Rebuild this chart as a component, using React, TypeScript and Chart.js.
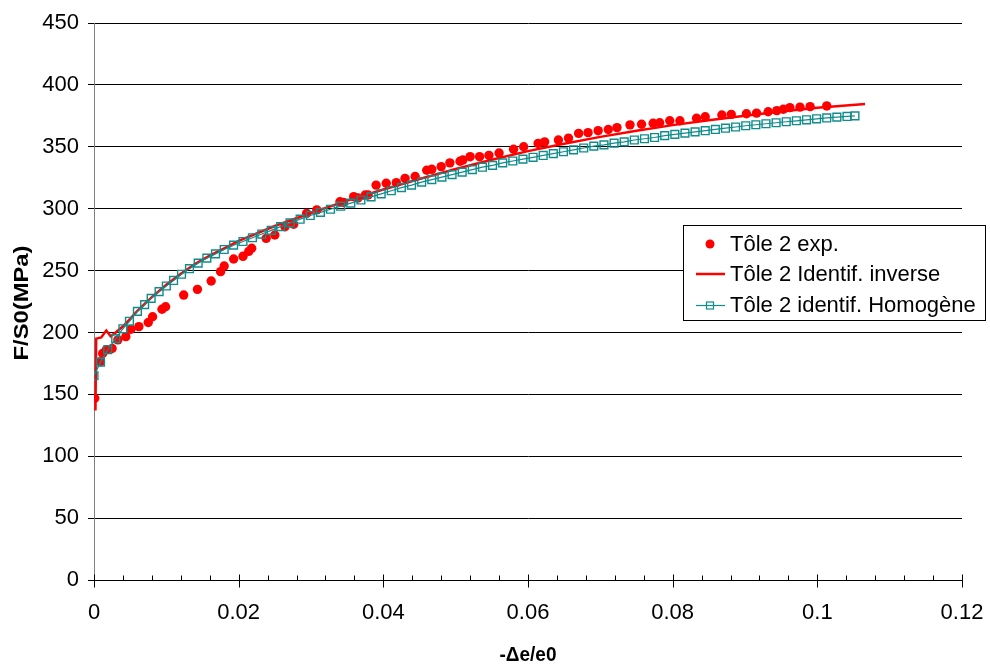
import React, { useEffect, useRef } from "react";
import { Chart, registerables } from "chart.js";

Chart.register(...registerables);

const expX = [0.0001, 0.0009, 0.0012, 0.0017, 0.0025, 0.0033, 0.0044, 0.0051, 0.0062, 0.0075, 0.0081, 0.0094, 0.0099, 0.0124, 0.0143, 0.0162, 0.0175, 0.018, 0.0193, 0.0206, 0.0214, 0.0218, 0.0238, 0.025, 0.0264, 0.0276, 0.0294, 0.0308, 0.034, 0.0345, 0.0359, 0.0365, 0.0375, 0.0379, 0.039, 0.0404, 0.0418, 0.043, 0.0444, 0.046, 0.0467, 0.048, 0.0492, 0.0506, 0.051, 0.052, 0.0533, 0.0546, 0.056, 0.058, 0.0594, 0.0614, 0.0623, 0.0642, 0.0656, 0.067, 0.0683, 0.0697, 0.0711, 0.0723, 0.0741, 0.0757, 0.0773, 0.0782, 0.0796, 0.081, 0.0833, 0.0845, 0.0868, 0.0881, 0.0902, 0.0916, 0.0932, 0.0944, 0.0953, 0.0962, 0.0976, 0.099, 0.1013];
const expY = [146.8, 176.4, 183, 186, 187, 194, 196.6, 202.6, 204.7, 208, 212.7, 218.7, 220.8, 230.2, 234.8, 241.6, 249.1, 253.7, 259.3, 261.5, 265.5, 268, 276, 278.7, 285.4, 287.4, 296.2, 299, 305.6, 305, 309.7, 308.6, 311, 311, 319, 320.5, 321, 324.5, 326, 331, 331.8, 334, 337, 338.3, 339.3, 342, 342, 343, 345, 348, 350, 352.7, 354, 355.5, 357, 360.8, 361.4, 363, 364, 365.5, 367.7, 368.2, 369, 369.4, 371, 371, 373, 374.3, 375.7, 376.2, 376.7, 377.2, 378.3, 379.2, 380.3, 381.6, 382, 382.4, 383];

const invX = [0.0002, 0.0003, 0.001, 0.0017, 0.0023, 0.003, 0.004, 0.005, 0.006, 0.007, 0.008, 0.009, 0.01, 0.012, 0.014, 0.016, 0.018, 0.02, 0.025, 0.03, 0.035, 0.04, 0.045, 0.05, 0.055, 0.06, 0.065, 0.07, 0.075, 0.08, 0.085, 0.09, 0.095, 0.1, 0.1066];
const invY = [137, 195, 196, 201.5, 197, 200, 205, 211, 217.5, 223, 228.5, 233.5, 238.5, 247.5, 255.5, 262, 268, 274, 286, 296.5, 306.5, 315.5, 324, 332, 339.5, 346.5, 352.5, 358, 363, 367.5, 371.5, 375, 378.5, 381.5, 384.5];

const homX = [0, 0.0009, 0.0019, 0.003, 0.004, 0.0049, 0.006, 0.007, 0.0079, 0.009, 0.01, 0.011, 0.0121, 0.0132, 0.0144, 0.0156, 0.0168, 0.018, 0.0193, 0.0206, 0.0219, 0.0232, 0.0245, 0.0258, 0.0271, 0.0285, 0.0299, 0.0313, 0.0327, 0.0341, 0.0355, 0.0369, 0.0383, 0.0397, 0.0411, 0.0425, 0.0439, 0.0453, 0.0467, 0.0481, 0.0495, 0.0509, 0.0523, 0.0537, 0.0551, 0.0565, 0.0579, 0.0593, 0.0607, 0.0621, 0.0635, 0.0649, 0.0663, 0.0677, 0.0691, 0.0705, 0.0719, 0.0733, 0.0747, 0.0761, 0.0775, 0.0789, 0.0803, 0.0817, 0.0831, 0.0845, 0.0859, 0.0873, 0.0887, 0.0901, 0.0915, 0.0929, 0.0943, 0.0957, 0.0971, 0.0985, 0.0999, 0.1013, 0.1027, 0.1041, 0.1052];
const homY = [165, 176, 186, 195, 203, 209, 217, 222.5, 227.5, 233, 237.5, 242, 247, 251.5, 256, 260, 263.5, 267, 270.5, 273.5, 276.5, 279.5, 282.5, 285.5, 288.5, 291.5, 294.5, 297, 299.5, 302, 304.5, 307, 309.5, 312, 314.5, 317, 319, 321.5, 323.5, 325.5, 327.5, 329.5, 331.5, 333.5, 335, 337, 338.5, 340, 341.5, 343, 344.5, 346, 347.5, 349, 350.5, 351.5, 353, 354, 355.5, 356.5, 357.5, 359, 360, 361, 362, 363, 364, 365, 366, 367, 367.8, 368.6, 369.4, 370.2, 371, 371.8, 372.6, 373.3, 374, 374.5, 375];

const seriesLabels = ["Tôle 2 exp.", "Tôle 2 Identif. inverse", "Tôle 2 identif. Homogène"];
const xTitle = "-Δe/e0";
const yTitle = "F/S0(MPa)";

const RED = "#ff0000";
const TEAL = "#108c8c";
const FONT = "'Liberation Sans', Arial, sans-serif";

const toPts = (xs: number[], ys: number[]) => xs.map((x, i) => ({ x, y: ys[i] }));

const fitText = (ctx: any, text: string, x: number, y: number, len: number) => {
  const w = ctx.measureText(text).width;
  ctx.save();
  ctx.translate(x, y);
  ctx.scale(len / w, 1);
  ctx.fillText(text, 0, 0);
  ctx.restore();
};

const decorPlugin = {
  id: "decor",
  afterDraw(chart: any) {
    const ctx = chart.ctx;
    const xs = chart.scales.x;
    const ys = chart.scales.y;
    const area = chart.chartArea;
    ctx.save();
    ctx.strokeStyle = "#000";
    ctx.lineWidth = 1;
    const y0 = Math.round(ys.getPixelForValue(0)) + 0.5;
    for (let i = 0; i <= 30; i++) {
      const v = i * 0.004;
      const px = Math.round(xs.getPixelForValue(v)) + 0.5;
      ctx.beginPath();
      if (i % 5 === 0) {
        ctx.moveTo(px, y0 - 6);
        ctx.lineTo(px, y0 + 7);
      } else {
        ctx.moveTo(px, y0 - 5);
        ctx.lineTo(px, y0);
      }
      ctx.stroke();
    }
    ctx.fillStyle = "#000";
    ctx.font = `bold 20px ${FONT}`;
    ctx.textAlign = "center";
    ctx.textBaseline = "middle";
    fitText(ctx, xTitle, (area.left + area.right) / 2, 655, 57);
    ctx.save();
    ctx.translate(22, 303);
    ctx.rotate(-Math.PI / 2);
    fitText(ctx, yTitle, 0, 0, 115);
    ctx.restore();

    const bx = 683.5, by = 225.5, bw = 302, bh = 95;
    ctx.fillStyle = "#fff";
    ctx.fillRect(bx, by, bw, bh);
    ctx.strokeStyle = "#000";
    ctx.lineWidth = 1;
    ctx.strokeRect(bx, by, bw, bh);
    const rows = [244, 274, 305];
    const mx = 710;
    ctx.fillStyle = RED;
    ctx.beginPath();
    ctx.arc(mx, rows[0], 4.5, 0, Math.PI * 2);
    ctx.fill();
    ctx.strokeStyle = RED;
    ctx.lineWidth = 2.5;
    ctx.beginPath();
    ctx.moveTo(696, rows[1]);
    ctx.lineTo(725, rows[1]);
    ctx.stroke();
    ctx.strokeStyle = TEAL;
    ctx.lineWidth = 1.2;
    ctx.beginPath();
    ctx.moveTo(696, rows[2] + 0.5);
    ctx.lineTo(725, rows[2] + 0.5);
    ctx.stroke();
    ctx.strokeRect(mx - 3.5, rows[2] - 3, 7, 7);
    ctx.fillStyle = "#000";
    ctx.font = `22px ${FONT}`;
    ctx.textAlign = "left";
    ctx.textBaseline = "middle";
    seriesLabels.forEach((t, i) => ctx.fillText(t, 730, rows[i] + 1));
    ctx.restore();
  },
};

export default function App() {
  const ref = useRef<HTMLCanvasElement | null>(null);
  useEffect(() => {
    if (!ref.current) return;
    const chart = new Chart(ref.current, {
      type: "scatter",
      data: {
        datasets: [
          {
            label: seriesLabels[0],
            data: toPts(expX, expY),
            showLine: false,
            pointRadius: 4.7,
            pointBackgroundColor: RED,
            pointBorderWidth: 0,
            borderColor: RED,
            order: 3,
          },
          {
            label: seriesLabels[1],
            data: toPts(invX, invY),
            showLine: true,
            pointRadius: 0,
            borderColor: RED,
            borderWidth: 2.5,
            order: 2,
          },
          {
            label: seriesLabels[2],
            data: toPts(homX, homY),
            showLine: true,
            pointStyle: "rect",
            pointRadius: 5.5,
            pointBackgroundColor: "rgba(0,0,0,0)",
            pointBorderColor: TEAL,
            pointBorderWidth: 1.4,
            borderColor: TEAL,
            borderWidth: 1.2,
            order: 1,
          },
        ],
      },
      options: {
        responsive: false,
        animation: false,
        events: [],
        layout: { padding: { left: 0, right: 28, top: 23, bottom: 0 } },
        plugins: { legend: { display: false }, tooltip: { enabled: false } },
        scales: {
          x: {
            type: "linear",
            min: 0,
            max: 0.12,
            afterFit: (s: any) => { s.height = 89; s.paddingRight = 0; s.paddingLeft = 0; },
            ticks: {
              stepSize: 0.02,
              padding: 20,
              maxRotation: 0,
              color: "#000",
              font: { family: FONT, size: 22 },
              callback: (v: any) => String(Math.round(Number(v) * 100) / 100),
            },
            grid: { display: true, drawOnChartArea: false, drawTicks: false },
            border: { display: true, color: "#000", width: 1 },
          },
          y: {
            min: 0,
            max: 450,
            afterFit: (s: any) => { s.width = 94; s.paddingTop = 0; s.paddingBottom = 0; },
            ticks: {
              stepSize: 50,
              padding: 9,
              color: "#000",
              font: { family: FONT, size: 22 },
            },
            grid: { color: "#000", lineWidth: 1, tickLength: 6, drawTicks: true },
            border: { display: true, color: "#808080", width: 1 },
          },
        },
      },
      plugins: [decorPlugin],
    });
    return () => chart.destroy();
  }, []);
  return (
    <div style={{ position: "fixed", left: 0, top: 0, width: 990, height: 669, background: "#fff" }}>
      <canvas ref={ref} width={990} height={669} />
    </div>
  );
}
